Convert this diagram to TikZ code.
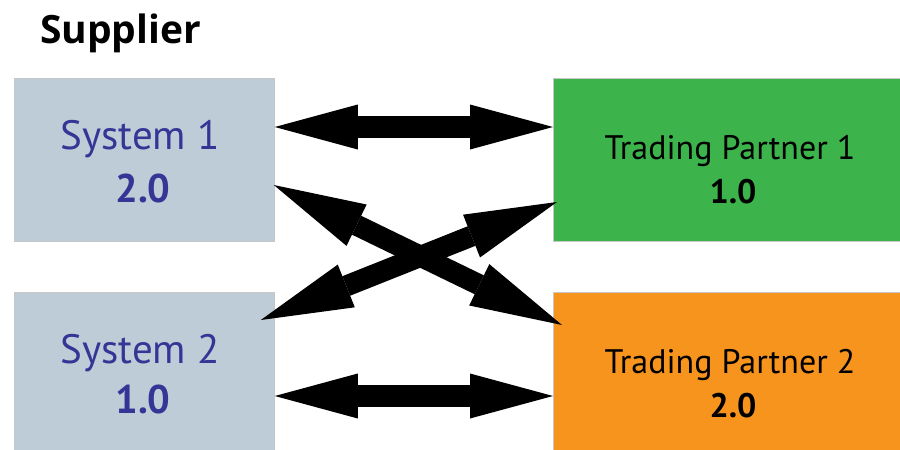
\documentclass[tikz,border=0pt]{standalone}
\usepackage{fontspec}
\setmainfont{PT Sans}
\newfontfamily\titlefont{Open Sans}
\usetikzlibrary{arrows.meta}
\definecolor{sysfill}{HTML}{BDCCD6}
\definecolor{tpgreen}{HTML}{3CB44B}
\definecolor{tporange}{HTML}{F7941E}
\definecolor{systext}{HTML}{353596}
\begin{document}
\begin{tikzpicture}[x=1pt,y=-1pt,
  box/.style={rectangle, draw=black!22, line width=0.8pt, inner sep=0pt, anchor=north west},
  systxt/.style={anchor=base, inner sep=0pt, text=systext, font=\fontsize{41}{41}\selectfont},
  sysnum/.style={anchor=base, inner sep=0pt, text=systext, font=\fontsize{40}{40}\selectfont\bfseries},
  tptxt/.style={anchor=base, inner sep=0pt, text=black, font=\fontsize{34}{34}\selectfont},
  tpnum/.style={anchor=base, inner sep=0pt, text=black, font=\fontsize{34}{34}\selectfont\bfseries},
  fatarrow/.style={line width=22pt, draw=black,
    {Triangle[length=83pt,width=45pt,line width=0pt]}-{Triangle[length=83pt,width=45pt,line width=0pt]}},
  diagarrow/.style={line width=21pt, draw=black,
    {Triangle[length=92pt,width=46pt,line width=0pt]}-{Triangle[length=92pt,width=46pt,line width=0pt]}}
]
\useasboundingbox (0,0) rectangle (900,450);
\fill[white] (0,0) rectangle (900,450);

\node[anchor=base west, inner sep=0pt, font=\titlefont\fontsize{39}{39}\selectfont\bfseries] (title) at (40,43) {Supplier};

\node[box, fill=sysfill, minimum width=260pt, minimum height=163pt] (s1) at (14,78) {};
\node[box, fill=sysfill, minimum width=260pt, minimum height=162pt] (s2) at (14,292) {};
\node[box, fill=tpgreen, minimum width=352pt, minimum height=163pt] (tp1) at (553,78) {};
\node[box, fill=tporange, minimum width=352pt, minimum height=162pt] (tp2) at (553,292) {};

\node[systxt] (s1a) at (140,149) {System 1};
\node[sysnum] (s1b) at (143,202) {2.0};
\node[systxt] (s2a) at (140,363) {System 2};
\node[sysnum] (s2b) at (143,413) {1.0};
\node[tptxt] (tp1a) at (730,159) {Trading Partner 1};
\node[tpnum] (tp1b) at (733,203) {1.0};
\node[tptxt] (tp2a) at (730,373) {Trading Partner 2};
\node[tpnum] (tp2b) at (733,417) {2.0};

\coordinate (a1l) at ([yshift=-49pt]s1.north east);
\coordinate (a1r) at ([yshift=-49pt]tp1.north west);
\coordinate (a2l) at ([yshift=-104pt]s2.north east);
\coordinate (a2r) at ([yshift=-104pt]tp2.north west);
\coordinate (d1l) at ([xshift=-1pt,yshift=-107pt]s1.north east);
\coordinate (d1r) at ([xshift=9pt,yshift=-33pt]tp2.north west);
\coordinate (d2l) at ([xshift=-14pt,yshift=-28pt]s2.north east);
\coordinate (d2r) at ([xshift=4pt,yshift=-124pt]tp1.north west);

\draw[fatarrow] (a1l) -- (a1r);
\draw[fatarrow] (a2l) -- (a2r);
\draw[diagarrow] (d1l) -- (d1r);
\draw[diagarrow] (d2l) -- (d2r);
\end{tikzpicture}
\end{document}
